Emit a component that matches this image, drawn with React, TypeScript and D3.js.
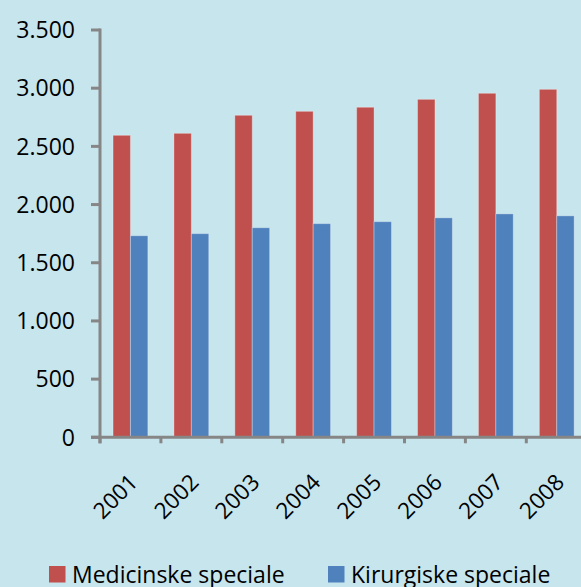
import { useEffect, useRef } from "react";
import * as d3 from "d3";

const years = ["2001", "2002", "2003", "2004", "2005", "2006", "2007", "2008"];
const seriesNames = ["Medicinske speciale", "Kirurgiske speciale"];
const medicinske = [2595, 2612, 2767, 2801, 2836, 2904, 2956, 2990];
const kirurgiske = [1732, 1750, 1801, 1836, 1853, 1886, 1920, 1903];
const yTicks = [0, 500, 1000, 1500, 2000, 2500, 3000, 3500];

const colors = ["#c0504d", "#4f81bd"];

export default function App() {
  const svgRef = useRef<SVGSVGElement>(null);

  useEffect(() => {
    if (!svgRef.current) return;
    document.body.style.margin = "0";

    const width = 581;
    const height = 587;
    const svg = d3.select(svgRef.current);
    svg.selectAll("*").remove();
    svg.attr("width", width).attr("height", height);

    // Background
    svg
      .append("rect")
      .attr("width", width)
      .attr("height", height)
      .attr("fill", "#c7e5ed");

    const left = 100;
    const y0 = 437.3;
    const yTop = 30;

    const y = d3.scaleLinear().domain([0, 3500]).range([y0, yTop]);
    const x = d3.scaleBand<string>().domain(years).range([left, left + 8 * 60.9]);
    const x1 = d3
      .scaleBand<number>()
      .domain([0, 1])
      .range([0, x.bandwidth()])
      .paddingOuter(0.75);

    const data = [medicinske, kirurgiske];

    // Bars
    data.forEach((values, si) => {
      svg
        .append("g")
        .selectAll("rect")
        .data(values)
        .join("rect")
        .attr("x", (_, i) => (x(years[i]) ?? 0) + (x1(si) ?? 0))
        .attr("y", (d) => y(d))
        .attr("width", x1.bandwidth())
        .attr("height", (d) => y0 - y(d))
        .attr("fill", colors[si])
        .attr("stroke", "rgba(255,255,255,0.3)")
        .attr("stroke-width", 1);
    });

    const axisColor = "#868686";

    // Y axis
    svg
      .append("line")
      .attr("x1", left)
      .attr("x2", left)
      .attr("y1", yTop - 1.5)
      .attr("y2", y0 + 6)
      .attr("stroke", axisColor)
      .attr("stroke-width", 3);

    yTicks.forEach((t) => {
      svg
        .append("line")
        .attr("x1", left - 9)
        .attr("x2", left)
        .attr("y1", y(t))
        .attr("y2", y(t))
        .attr("stroke", axisColor)
        .attr("stroke-width", 3);
      svg
        .append("text")
        .attr("x", 75)
        .attr("y", y(t))
        .attr("dy", "0.36em")
        .attr("text-anchor", "end")
        .attr("font-family", "Open Sans")
        .attr("font-size", "23px")
        .attr("fill", "#000")
        .text(d3.format(",")(t).replace(/,/g, "."));
    });

    // X axis
    svg
      .append("line")
      .attr("x1", left - 9)
      .attr("x2", width)
      .attr("y1", y0)
      .attr("y2", y0)
      .attr("stroke", axisColor)
      .attr("stroke-width", 3);

    years.forEach((yr) => {
      const xt = x(yr) ?? 0;
      svg
        .append("line")
        .attr("x1", xt)
        .attr("x2", xt)
        .attr("y1", y0)
        .attr("y2", y0 + 6)
        .attr("stroke", axisColor)
        .attr("stroke-width", 3);

      const cx = xt + x.bandwidth() / 2 + 3;
      svg
        .append("text")
        .attr("transform", `translate(${cx},478) rotate(-45)`)
        .attr("dy", "0.36em")
        .attr("text-anchor", "end")
        .attr("font-family", "Open Sans")
        .attr("font-size", "22.5px")
        .attr("fill", "#000")
        .text(yr);
    });

    // Legend
    const legendX = [49, 328];
    seriesNames.forEach((name, i) => {
      svg
        .append("rect")
        .attr("x", legendX[i])
        .attr("y", 566)
        .attr("width", 16.5)
        .attr("height", 16.5)
        .attr("fill", colors[i]);
      svg
        .append("text")
        .attr("x", legendX[i] + 23)
        .attr("y", 583)
        .attr("font-family", "Open Sans")
        .attr("font-size", "23px")
        .attr("fill", "#000")
        .text(name);
    });
  }, []);

  return <svg ref={svgRef}></svg>;
}
